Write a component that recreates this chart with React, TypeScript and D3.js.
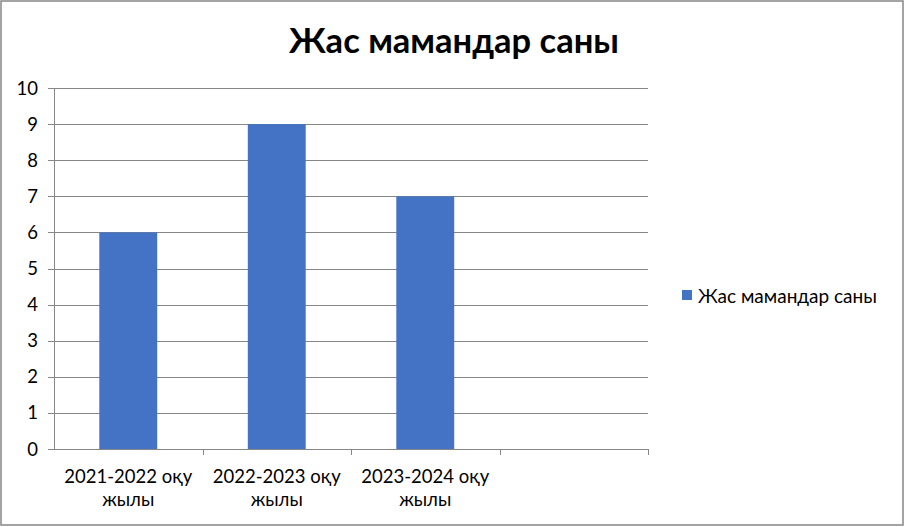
import React from "react";
import * as d3 from "d3";

const categories = ["2021-2022 оқу жылы", "2022-2023 оқу жылы", "2023-2024 оқу жылы", ""];
const values: (number | null)[] = [6, 9, 7, null];
const yTicks = [0, 1, 2, 3, 4, 5, 6, 7, 8, 9, 10];
const seriesName = "Жас мамандар саны";
const title = "Жас мамандар саны";

const W = 905, H = 527;
const left = 54, right = 648, top = 88, bottom = 449;
const font = "Lato, 'Open Sans', sans-serif";

export default function App() {
  const x = d3.scaleBand<number>().domain(categories.map((_, i) => i)).range([left, right]);
  const y = d3.scaleLinear().domain([0, 10]).range([bottom, top]);
  const bw = x.bandwidth() * 0.39;
  const grid = "#868686";
  return (
    <svg width={W} height={H} style={{ position: "absolute", left: 0, top: 0 }}>
      <rect x={1} y={1} width={W - 3} height={H - 3} fill="white" stroke={grid} strokeWidth={1.5} />
      <text x={454} y={53} textAnchor="middle" fontFamily={font} fontWeight="bold" fontSize={34.5} fill="#000">{title}</text>
      {yTicks.map(t => (
        <g key={t}>
          <line x1={left - 6} x2={right} y1={Math.round(y(t)) + 0.5} y2={Math.round(y(t)) + 0.5} stroke={grid} strokeWidth={1} />
          <text x={38} y={y(t) + 6.5} textAnchor="end" fontFamily={font} fontSize={18.5} fill="#000">{t}</text>
        </g>
      ))}
      <line x1={left + 0.5} x2={left + 0.5} y1={top} y2={bottom} stroke={grid} />
      {categories.map((_, i) => (
        <line key={"t" + i} x1={Math.round((x(i) as number) + x.bandwidth()) + 0.5} x2={Math.round((x(i) as number) + x.bandwidth()) + 0.5} y1={bottom} y2={bottom + 6} stroke={grid} />
      ))}
      {values.map((v, i) => v == null ? null : (
        <rect key={"b" + i} x={(x(i) as number) + x.bandwidth() / 2 - bw / 2} y={y(v)} width={bw} height={y(0) - y(v)} fill="#4472C4" />
      ))}
      {categories.map((c, i) => {
        if (!c) return null;
        const parts = c.split(" ");
        const l1 = parts.slice(0, 2).join(" ");
        const l2 = parts.slice(2).join(" ");
        const cx = (x(i) as number) + x.bandwidth() / 2;
        return (
          <text key={"c" + i} textAnchor="middle" fontFamily={font} fontSize={18.5} fill="#000">
            <tspan x={cx} y={483}>{l1}</tspan>
            <tspan x={cx} y={506}>{l2}</tspan>
          </text>
        );
      })}
      <rect x={682} y={290} width={10} height={10} fill="#4472C4" />
      <text x={698} y={302.5} fontFamily={font} fontSize={19} fill="#000">{seriesName}</text>
    </svg>
  );
}
